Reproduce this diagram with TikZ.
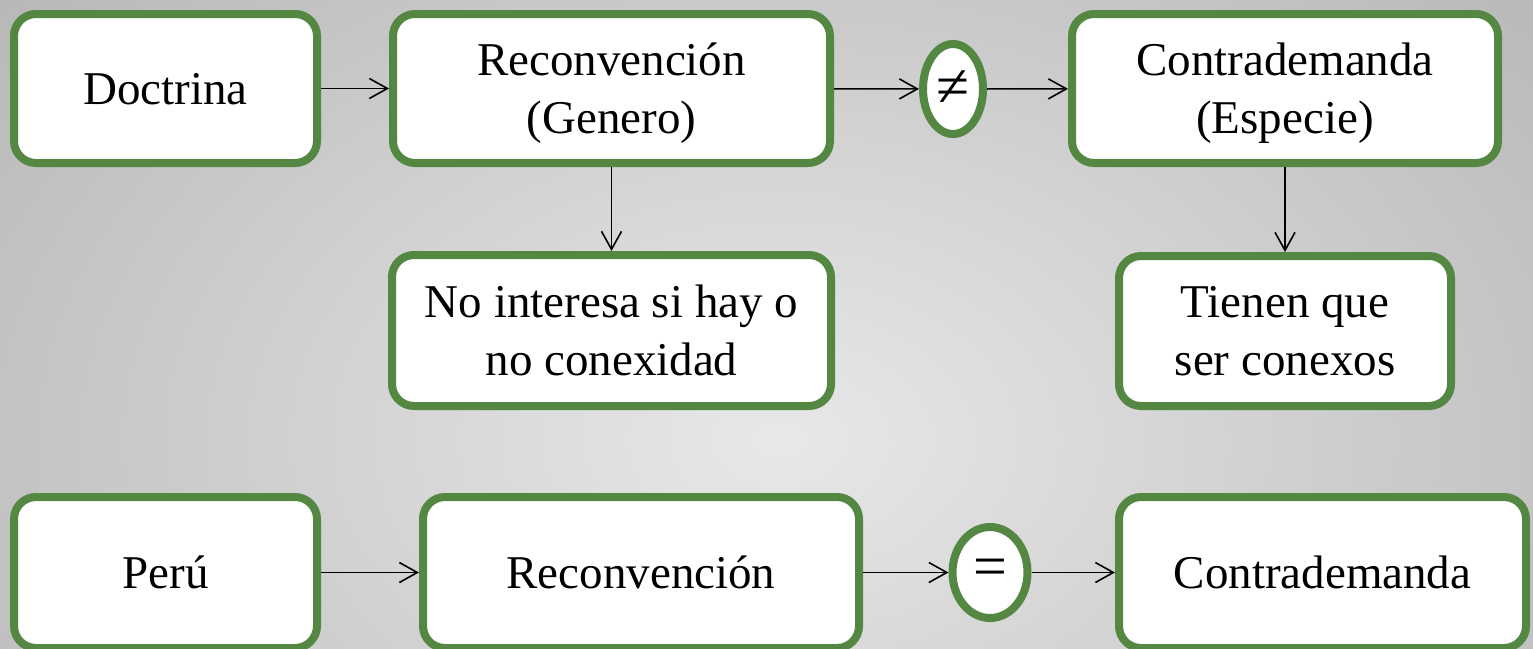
\documentclass[tikz,border=0pt]{standalone}
\usepackage{fontspec}
\setmainfont{Liberation Serif}
\usetikzlibrary{arrows.meta,shapes.geometric}
\definecolor{boxgreen}{RGB}{83,135,66}
\definecolor{bgout}{RGB}{182,182,182}
\definecolor{bgin}{RGB}{232,232,232}
\begin{document}
\begin{tikzpicture}[x=1pt,y=-1pt,
  box/.style={draw=boxgreen, line width=8pt, fill=white, rounded corners=22pt,
    align=center, font=\fontsize{47}{58}\selectfont, inner sep=0pt},
  oneline/.style={text depth=-6pt},
  paren/.style={text depth=-4pt},
  oval/.style={ellipse, draw=boxgreen, line width=8pt, fill=white, inner sep=0pt,
    font=\fontsize{60}{60}\selectfont},
  conn/.style={-{Straight Barb[length=18pt,width=20pt,line width=1.6pt]}, line width=1.6pt, black}]
\useasboundingbox (0,0) rectangle (1533,648);
\begin{scope}
  \clip (0,0) rectangle (1533,648);
  \fill[bgout] (0,0) rectangle (1533,648);
  \shade[inner color=bgin, outer color=bgout] (780,440) ellipse [x radius=1050, y radius=720];
\end{scope}
% top row
\node[box, oneline, minimum width=303pt, minimum height=149pt] (doc) at (165.5,88.5) {Doctrina};
\node[box, paren, minimum width=437pt, minimum height=149pt] (rec1) at (611.5,88.5) {Reconvención\\(Genero)};
\node[oval, minimum width=60pt, minimum height=90pt] (neq) at (953,89) {≠};
\node[box, paren, minimum width=426pt, minimum height=149pt] (con1) at (1285,88.5) {Contrademanda\\(Especie)};
% second row
\node[box, minimum width=439pt, minimum height=151pt] (noint) at (611.5,330.5) {No interesa si hay o\\no conexidad};
\node[box, minimum width=332pt, minimum height=150pt] (tien) at (1285,331) {Tienen que\\ser conexos};
% bottom row
\node[box, oneline, minimum width=303pt, minimum height=151pt] (peru) at (165.5,572.5) {Perú};
\node[box, oneline, minimum width=436pt, minimum height=151pt] (rec2) at (641,572.5) {Reconvención};
\node[oval, minimum width=75pt, minimum height=91pt] (eq) at (990,572.5) {=};
\node[box, oneline, minimum width=407pt, minimum height=151pt] (con2) at (1322.5,572.5) {Contrademanda};
% connectors
\draw[conn] (doc) -- (rec1);
\draw[conn] (rec1) -- (neq);
\draw[conn] (neq) -- (con1);
\draw[conn] (rec1) -- (noint);
\draw[conn] (con1) -- (tien);
\draw[conn] (peru) -- (rec2);
\draw[conn] (rec2) -- (eq);
\draw[conn] (eq) -- (con2);
\end{tikzpicture}
\end{document}
